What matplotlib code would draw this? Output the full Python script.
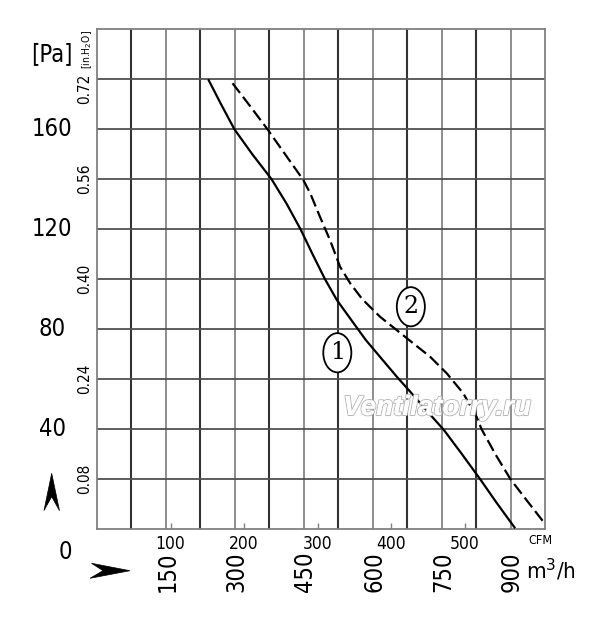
import numpy as np
import matplotlib
matplotlib.use("Agg")
import matplotlib.pyplot as plt
from matplotlib.patches import Polygon
import matplotlib.patheffects as pe
import matplotlib.transforms as mtrans

# ---- data ----
q1 = [242, 270, 299, 338, 380, 413, 443, 470, 496, 522, 555, 585, 618, 653,
      688, 722, 755, 794, 834, 870, 910]                                   # m3/h
p1 = [179.9, 169.9, 159.9, 149.9, 139.9, 130, 119.9, 109.6, 100, 91.6, 83.2,
      75.6, 68.4, 60.8, 53.6, 46.4, 39.6, 30, 19.9, 10.4, 0.3]              # Pa
q2 = [295, 333, 371, 409, 449, 464, 485, 507, 529, 551, 577, 616, 652, 688,
      725, 761, 797, 826, 837, 868, 900, 938, 977]
p2 = [178.3, 169.2, 159.9, 150, 139.6, 134.3, 125, 115.6, 104.9, 98.3, 92,
      84.9, 79.6, 74.3, 68.9, 62.3, 54.3, 44.9, 39.9, 29.6, 19.9, 10.8, 1.6]

pa_ticks = [40, 80, 120, 160]
inh2o_labels = ["0.08", "0.24", "0.40", "0.56", "0.72"]
inh2o_pos = [20, 60, 100, 140, 180]
m3h_labels = [150, 300, 450, 600, 750, 900]
cfm_labels = [100, 200, 300, 400, 500]
CFM_TO_M3H = 1.6

W, H = 600, 619
fig = plt.figure(figsize=(W / 100, H / 100), dpi=100)
L, R, T, B = 97, 545, 29, 529
ax = fig.add_axes([L / W, 1 - B / H, (R - L) / W, (B - T) / H])
ax.set_xlim(0, 975)
ax.set_ylim(0, 200)

NF = dict(family="DejaVu Sans", stretch="condensed")

# grid
for i, x in enumerate(np.arange(75, 975, 75)):
    dark = (i % 2 == 0)
    ax.axvline(x, color="#333333" if dark else "#7a7a7a", lw=1.5 if dark else 1.2, zorder=1)
for y in np.arange(20, 200, 20):
    ax.axhline(y, color="#505050", lw=1.3, zorder=1)
for s in ax.spines.values():
    s.set_color("#808080")
    s.set_linewidth(1.3)

# curves
ax.plot(q1, p1, color="black", lw=1.6, zorder=3, solid_capstyle="butt", solid_joinstyle="round")
ax.plot(q2, p2, color="black", lw=1.6, zorder=3, linestyle=(0, (5.5, 2.2)))

# circled labels
for txt, qx, py in [("1", 523, 70.5), ("2", 683, 88.9)]:
    ax.text(qx, py, txt, fontsize=17, family="DejaVu Serif", ha="center", va="center", zorder=4,
            bbox=dict(boxstyle="ellipse,pad=0.1", fc="white", ec="black", lw=1.3))

# watermark
ax.text((437 - L) / (R - L), 1 - (408 - T) / (B - T), "Ventilatorry.ru",
        transform=ax.transAxes, ha="center", va="center", fontsize=20, style="italic",
        weight="bold", family="Liberation Sans", color="white", zorder=5,
        path_effects=[pe.withStroke(linewidth=1.5, foreground="#b8b8b8"), pe.Normal()])

# CFM ticks
ax.set_xticks([c * CFM_TO_M3H for c in cfm_labels])
ax.set_xticklabels([str(c) for c in cfm_labels], fontsize=12.5, fontstretch="condensed",
                   fontfamily="DejaVu Sans")
ax.tick_params(axis="x", direction="in", length=4, width=1, color="#808080", pad=4)
ax.set_yticks([])

fx = lambda px: px / W
fy = lambda py: 1 - py / H
ytr = mtrans.blended_transform_factory(fig.transFigure, ax.transData)
for v in pa_ticks:
    ax.text(fx(52), v, str(v), transform=ytr, ha="center", va="center",
            fontsize=17, **NF)
for v, lab in zip(inh2o_pos, inh2o_labels):
    yy = v - 4 if lab == "0.72" else v
    ax.text(fx(85), yy, lab, transform=ytr, ha="center", va="center", rotation=90,
            fontsize=11, **NF)
fig.text(fx(87), fy(50), "[in.H$_2$O]", ha="center", va="center", rotation=90,
         fontsize=7.5, **NF)
fig.text(fx(52), fy(54), "[Pa]", ha="center", va="center", fontsize=17, **NF)
fig.text(fx(65), fy(552), "0", ha="center", va="center", fontsize=17, **NF)

# m3/h labels
xtr = mtrans.blended_transform_factory(ax.transData, fig.transFigure)
for v in m3h_labels:
    ax.text(v + 3, fy(572), str(v), transform=xtr, ha="center", va="center", rotation=90,
            fontsize=17, **NF)
fig.text(fx(526), fy(570), "m$^3$/h", ha="left", va="center", fontsize=16, **NF)
fig.text(fx(540), fy(541), "CFM", ha="center", va="center", fontsize=9, **NF)

# arrows
up = [(51.7, 473.3), (59.5, 510.7), (51.7, 496.7), (44, 510.5)]
rt = [(130, 570.7), (90, 578.3), (103, 570.7), (91.5, 563.3)]
for poly in (up, rt):
    fig.patches.append(Polygon([(fx(a), fy(b)) for a, b in poly], closed=True,
                               transform=fig.transFigure, fc="black", ec="black", lw=0.5))

fig.savefig("out.png", dpi=100)
